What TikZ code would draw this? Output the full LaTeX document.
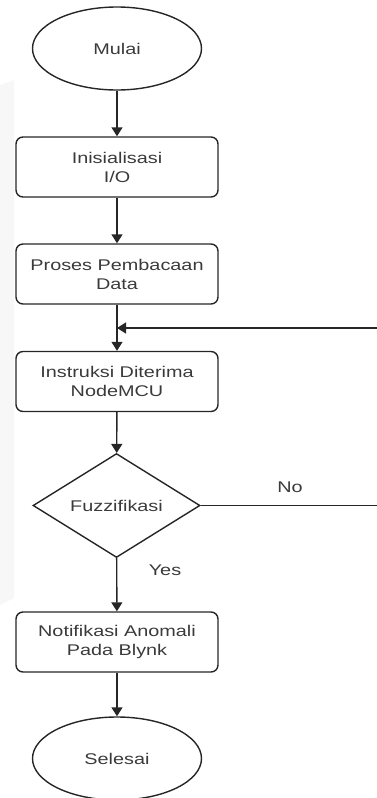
\documentclass[tikz,border=0pt]{standalone}
\usepackage{fontspec}
\newfontfamily\flowfont[FakeStretch=1.28]{Liberation Sans}
\usetikzlibrary{shapes.geometric,arrows.meta}
\definecolor{linec}{HTML}{262626}
\definecolor{textc}{HTML}{3A3A3A}
\definecolor{faint}{HTML}{F7F7F7}
\begin{document}
\begin{tikzpicture}[x=1pt,y=-1pt,
  base/.style={draw=linec,line width=1.4pt,inner sep=0pt,align=center,text=textc,
    font=\flowfont\fontsize{15.5}{19}\selectfont},
  terminal/.style={base,ellipse,minimum width=169pt,minimum height=83pt},
  procbox/.style={base,rectangle,rounded corners=7pt,minimum width=202pt,minimum height=60pt},
  decision/.style={base,diamond,minimum width=167pt,minimum height=93pt},
  conn/.style={draw=linec,line width=1.4pt},
  arr/.style={conn,-{Triangle[width=11pt,length=9pt]}},
  lbl/.style={text=textc,inner sep=0pt,font=\flowfont\fontsize{15.5}{19}\selectfont}]
\useasboundingbox (0,0) rectangle (377,798);
\fill[faint] (0,85) -- (14,80) -- (14,598) -- (0,605) -- cycle;
\node[terminal] (mulai) at (117,48.5) {Mulai};
\node[procbox] (init) at (117,167) {Inisialisasi\\I/O};
\node[procbox] (proses) at (117,274) {Proses Pembacaan\\Data};
\node[procbox] (instr) at (117,381.5) {Instruksi Diterima\\NodeMCU};
\node[decision] (fuzz) at (116.5,505.5) {Fuzzifikasi};
\node[procbox] (notif) at (117,642) {Notifikasi Anomali\\Pada Blynk};
\node[terminal] (selesai) at (117,758.5) {Selesai};
\coordinate (join) at (117,328);
\coordinate (loopin) at (377,328);
\coordinate (noend) at (377,505.5);
\draw[arr] (mulai) -- (init);
\draw[arr] (init) -- (proses);
\draw[arr] (proses) -- (instr);
\draw[arr] (loopin) -- (join);
\draw[arr] (instr) -- (fuzz);
\draw[conn] (fuzz.east) -- (noend);
\draw[arr] (fuzz) -- (notif);
\draw[arr] (notif) -- (selesai);
\node[lbl] (no) at (290,487) {No};
\node[lbl] (yes) at (165,570) {Yes};
\end{tikzpicture}
\end{document}
